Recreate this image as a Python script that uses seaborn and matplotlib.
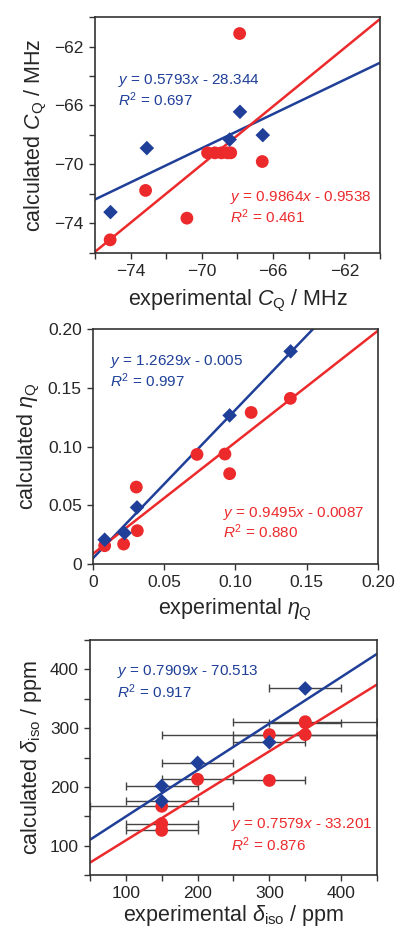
import matplotlib
matplotlib.use("Agg")
import matplotlib.pyplot as plt
import seaborn as sns
import numpy as np
import pandas as pd
from matplotlib.ticker import MultipleLocator

# ---- panel 1: C_Q (MHz)
cq_blue_exp = [-75.13, -73.09, -68.44, -67.86, -66.58]
cq_blue_calc = [-73.23, -68.89, -68.31, -66.43, -68.01]
cq_red_exp = [-75.15, -73.16, -70.84, -69.68, -69.27, -68.90, -68.56, -68.38, -67.88, -66.61]
cq_red_calc = [-75.11, -71.76, -73.64, -69.21, -69.21, -69.21, -69.21, -69.21, -61.12, -69.80]

# ---- panel 2: eta_Q
eta_blue_exp = [0.0082, 0.0222, 0.0309, 0.0959, 0.1387]
eta_blue_calc = [0.0207, 0.0264, 0.0482, 0.1265, 0.1810]
eta_red_exp = [0.0082, 0.0215, 0.0304, 0.0311, 0.0730, 0.0926, 0.0959, 0.1110, 0.1385]
eta_red_calc = [0.0156, 0.0170, 0.0655, 0.0284, 0.0933, 0.0936, 0.0769, 0.1290, 0.1410]
eta_red_err = [0.002, 0.0, 0.002, 0.002, 0.002, 0.002, 0.0, 0.002, 0.002]

# ---- panel 3: delta_iso (ppm)
d_blue_exp = [150, 150, 200, 300, 350]
d_blue_calc = [175.6, 201.7, 241, 276, 367.6]
d_blue_err = [50, 50, 50, 50, 50]
d_red_exp = [150, 150, 150, 200, 300, 300, 350, 350, 350]
d_red_calc = [126, 137.5, 167, 213, 211, 289, 289, 311, 309]
d_red_err = [50, 50, 100, 50, 50, 150, 100, 100, 50]

# fitted lines (slope, intercept as drawn) and their labels
fits_blue = [(0.5793, -28.344), (1.2629, 0.005), (0.7909, 70.513)]
fits_red = [(0.9864, -0.9538), (0.9495, 0.0087), (0.7579, 33.201)]
label_blue = [("0.5793", "28.344", "0.697"), ("1.2629", "0.005", "0.997"), ("0.7909", "70.513", "0.917")]
label_red = [("0.9864", "0.9538", "0.461"), ("0.9495", "0.0087", "0.880"), ("0.7579", "33.201", "0.876")]

BLUE = "#1f3f98"
RED = "#ec2a2c"

sns.set_style("ticks")
plt.rcParams["font.family"] = ["Liberation Sans", "DejaVu Sans"]
plt.rcParams["mathtext.fontset"] = "custom"
plt.rcParams["mathtext.rm"] = "Liberation Sans"
plt.rcParams["mathtext.it"] = "Liberation Sans:italic"
plt.rcParams["axes.edgecolor"] = "#333333"
plt.rcParams["axes.linewidth"] = 1.2

fig = plt.figure(figsize=(3.95, 9.3), dpi=100)
boxes = [[0.2405, 0.728, 0.7215, 0.2537],
         [0.2354, 0.3935, 0.7215, 0.2527],
         [0.2278, 0.0591, 0.7266, 0.2527]]
axes = [fig.add_axes(b) for b in boxes]

limits = [(-76, -60), (0, 0.2), (50, 450)]
xlabels = [r"experimental $C_\mathrm{Q}$ / MHz", r"experimental $\eta_\mathrm{Q}$",
           r"experimental $\delta_\mathrm{iso}$ / ppm"]
ylabels = [r"calculated $C_\mathrm{Q}$ / MHz", r"calculated $\eta_\mathrm{Q}$",
           r"calculated $\delta_\mathrm{iso}$ / ppm"]
xpads = [6, 5, 1.5]
blue_txt_pos = [(0.08, 0.733, 0.648), (0.06, 0.861, 0.779), (0.094, 0.864, 0.779)]
red_txt_pos = [(0.474, 0.237, 0.153), (0.456, 0.217, 0.136), (0.49, 0.213, 0.128)]

# error bars behind markers
axes[1].errorbar(eta_red_exp, eta_red_calc, yerr=eta_red_err, fmt="none",
                 ecolor="#333333", elinewidth=0.8, capsize=1.5, zorder=1)
axes[2].errorbar(d_blue_exp, d_blue_calc, xerr=d_blue_err, fmt="none",
                 ecolor="#444444", elinewidth=1.0, capsize=3, zorder=1)
axes[2].errorbar(d_red_exp, d_red_calc, xerr=d_red_err, fmt="none",
                 ecolor="#444444", elinewidth=1.0, capsize=3, zorder=1)

data = [(cq_blue_exp, cq_blue_calc, cq_red_exp, cq_red_calc),
        (eta_blue_exp, eta_blue_calc, eta_red_exp, eta_red_calc),
        (d_blue_exp, d_blue_calc, d_red_exp, d_red_calc)]

for i, ax in enumerate(axes):
    bx, by, rx, ry = data[i]
    lo, hi = limits[i]
    xs = np.array([lo, hi])
    for (m, b), col in [(fits_blue[i], BLUE), (fits_red[i], RED)]:
        sns.lineplot(x=xs, y=m * xs + b, color=col, lw=1.8, ax=ax, zorder=2)
    sns.scatterplot(x=rx, y=ry, color=RED, marker="o", s=85, edgecolor="none", ax=ax, zorder=3)
    sns.scatterplot(x=bx, y=by, color=BLUE, marker="D", s=55, edgecolor="none", ax=ax, zorder=4)
    ax.set_xlim(lo, hi)
    ax.set_ylim(lo, hi)
    ax.set_xlabel(xlabels[i], fontsize=15.5, labelpad=xpads[i])
    ax.set_ylabel(ylabels[i], fontsize=15.5, labelpad=4)
    ax.tick_params(which="both", direction="out", labelsize=12.5, width=1.0, color="#333333")
    ax.tick_params(which="major", length=4.5)
    ax.tick_params(which="minor", length=4.5)
    for sp in ax.spines.values():
        sp.set_visible(True)

    sb, ib, rb = label_blue[i]
    xt, y1, y2 = blue_txt_pos[i]
    ax.text(xt, y1, rf"$y$ = {sb}$x$ - {ib}", transform=ax.transAxes, color=BLUE,
            fontsize=11, va="center")
    ax.text(xt, y2, rf"$R^2$ = {rb}", transform=ax.transAxes, color=BLUE,
            fontsize=11, va="center")
    sr, ir, rr = label_red[i]
    xt, y1, y2 = red_txt_pos[i]
    ax.text(xt, y1, rf"$y$ = {sr}$x$ - {ir}", transform=ax.transAxes, color=RED,
            fontsize=11, va="center")
    ax.text(xt, y2, rf"$R^2$ = {rr}", transform=ax.transAxes, color=RED,
            fontsize=11, va="center")

axes[0].xaxis.set_minor_locator(MultipleLocator(2))
axes[0].yaxis.set_minor_locator(MultipleLocator(2))
axes[0].set_xticks([-74, -70, -66, -62])
axes[0].set_yticks([-74, -70, -66, -62])

axes[1].set_xticks([0, 0.05, 0.10, 0.15, 0.20])
axes[1].set_xticklabels(["0", "0.05", "0.10", "0.15", "0.20"])
axes[1].set_yticks([0, 0.05, 0.10, 0.15, 0.20])
axes[1].set_yticklabels(["0", "0.05", "0.10", "0.15", "0.20"])

axes[2].set_xticks([100, 200, 300, 400])
axes[2].set_yticks([100, 200, 300, 400])
axes[2].xaxis.set_minor_locator(MultipleLocator(50))
axes[2].yaxis.set_minor_locator(MultipleLocator(50))

fig.savefig("out.png", dpi=100)
